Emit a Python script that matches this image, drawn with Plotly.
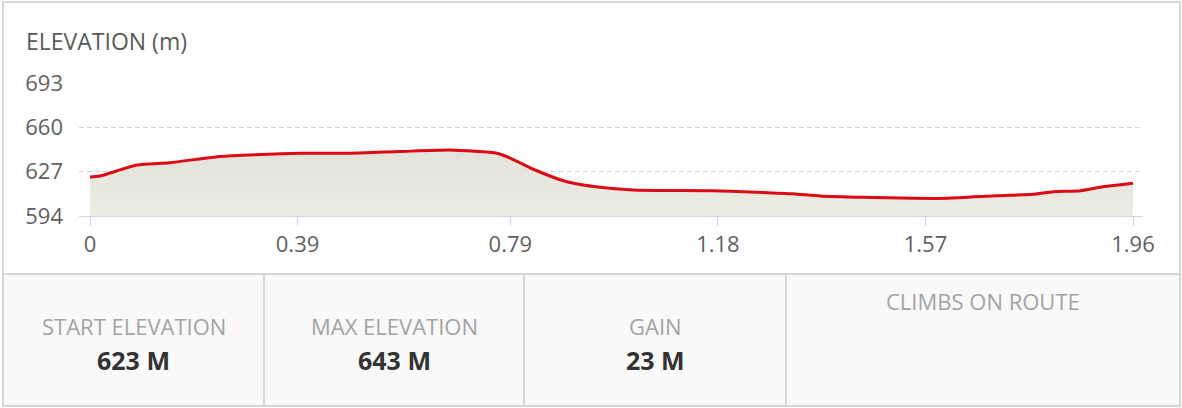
import plotly.graph_objects as go

# ---- data ----
distance_km = [0.0, 0.019, 0.088, 0.150, 0.239, 0.301, 0.395, 0.489, 0.583, 0.677,
               0.765, 0.784, 0.833, 0.896, 0.958, 1.020, 1.171, 1.240, 1.321, 1.372,
               1.453, 1.547, 1.611, 1.705, 1.772, 1.810, 1.861, 1.898, 1.960]
elevation_m = [623.0, 623.8, 632.0, 633.7, 638.1, 639.4, 640.7, 640.7, 642.0, 643.1,
               640.7, 638.1, 628.8, 619.5, 615.4, 613.4, 612.8, 611.9, 610.5, 608.9,
               607.9, 607.2, 607.2, 609.1, 610.2, 612.1, 612.8, 615.4, 618.3]
x_ticks = [0, 0.39, 0.79, 1.18, 1.57, 1.96]
x_tick_labels = ["0", "0.39", "0.79", "1.18", "1.57", "1.96"]
y_ticks = [594, 627, 660, 693]
stat_labels = ["START ELEVATION", "MAX ELEVATION", "GAIN", "CLIMBS ON ROUTE"]
stat_values = ["623 M", "643 M", "23 M", ""]

W, H = 1182, 408
FONT = "Open Sans"


def px(x):
    return x / W


def py(y):
    return 1 - y / H


fig = go.Figure()
fig.add_trace(go.Scatter(
    x=distance_km, y=elevation_m, mode="lines",
    line=dict(color="#dc0a14", width=3, shape="spline", smoothing=0.6),
    fill="tozeroy",
    fillgradient=dict(type="vertical", start=594, stop=645,
                      colorscale=[[0, "#ecebe4"], [1, "#e4e3da"]]),
    hoverinfo="skip", showlegend=False,
))

# plot area in pixels
PL, PR, PT, PB = 79, 1143, 83, 216
x_per_px = 1.96 / (1133 - 90)
xr0 = 0 - (90 - PL) * x_per_px
xr1 = 1.96 + (PR - 1133) * x_per_px

shapes = []
shapes.append(dict(type="rect", xref="paper", yref="paper",
                   x0=px(3), x1=px(1180), y0=py(406), y1=py(274),
                   fillcolor="#f9f9f9", line=dict(width=0), layer="below"))
shapes.append(dict(type="rect", xref="paper", yref="paper",
                   x0=px(3), x1=px(1180), y0=py(406), y1=py(2),
                   line=dict(color="#d6d6d6", width=2), fillcolor="rgba(0,0,0,0)"))
shapes.append(dict(type="line", xref="paper", yref="paper",
                   x0=px(3), x1=px(1180), y0=py(274), y1=py(274),
                   line=dict(color="#d6d6d6", width=2)))
dividers = [264, 524, 786]
for d in dividers:
    shapes.append(dict(type="line", xref="paper", yref="paper",
                       x0=px(d), x1=px(d), y0=py(274), y1=py(406),
                       line=dict(color="#d6d6d6", width=2)))

cells = [3] + dividers + [1180]
annotations = [dict(text="ELEVATION (m)", xref="paper", yref="paper",
                    x=px(24), y=py(41), xanchor="left", yanchor="middle",
                    showarrow=False, font=dict(family=FONT, size=23, color="#5a5a5a"))]
for i, (lab, val) in enumerate(zip(stat_labels, stat_values)):
    cx = (cells[i] + cells[i + 1]) / 2
    if val:
        annotations.append(dict(text=lab, xref="paper", yref="paper", x=px(cx), y=py(326),
                                xanchor="center", yanchor="middle", showarrow=False,
                                font=dict(family=FONT, size=22, color="#a3a3a3")))
        annotations.append(dict(text="<b>" + val + "</b>", xref="paper", yref="paper",
                                x=px(cx), y=py(360), xanchor="center", yanchor="middle",
                                showarrow=False, font=dict(family=FONT, size=25, color="#333333")))
    else:
        annotations.append(dict(text=lab, xref="paper", yref="paper", x=px(cx), y=py(301),
                                xanchor="center", yanchor="middle", showarrow=False,
                                font=dict(family=FONT, size=22, color="#a3a3a3")))

fig.update_layout(
    width=W, height=H, margin=dict(l=0, r=0, t=0, b=0, pad=0, autoexpand=False),
    paper_bgcolor="white", plot_bgcolor="white",
    shapes=shapes, annotations=annotations,
    xaxis=dict(domain=[px(PL), px(PR)], range=[xr0, xr1],
               tickvals=x_ticks, ticktext=x_tick_labels,
               ticks="outside", ticklen=9, tickcolor="#ccd6eb", tickwidth=1,
               showline=True, linecolor="#ccd6eb", linewidth=1,
               showgrid=False, zeroline=False, automargin=False,
               tickfont=dict(family=FONT, size=22, color="#5f5f5f"),
               fixedrange=True),
    yaxis=dict(domain=[py(PB), py(PT)], range=[594, 693],
               tickvals=y_ticks, ticks="", ticklabelstandoff=15,
               showgrid=True, gridcolor="#d4d4d4", gridwidth=1, griddash="5px,3px",
               showline=False, zeroline=False, automargin=False,
               tickfont=dict(family=FONT, size=22, color="#5f5f5f"),
               fixedrange=True),
    font=dict(family=FONT),
)

fig.write_html(
    "out.html",
    config={"displayModeBar": False},
    post_script="document.body.style.margin='0';document.body.style.padding='0';"
                "document.documentElement.style.overflow='hidden';",
)
